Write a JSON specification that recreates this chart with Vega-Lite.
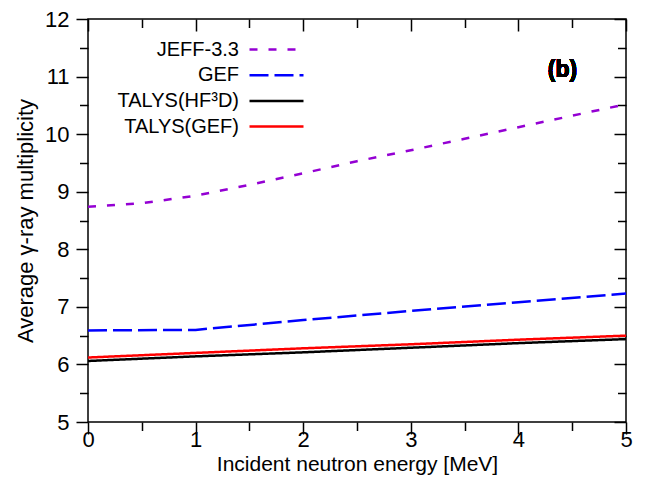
{
  "$schema": "https://vega.github.io/schema/vega-lite/v6.json",
  "autosize": "none",
  "width": 538,
  "height": 403,
  "padding": {"left": 88, "top": 19, "right": 20, "bottom": 62},
  "background": "white",
  "config": {
    "font": "Liberation Sans",
    "view": {"stroke": "black", "strokeWidth": 1.5},
    "axis": {
      "domain": false,
      "grid": false,
      "tickColor": "black",
      "tickWidth": 1.5,
      "labelFont": "Liberation Sans",
      "titleFont": "Liberation Sans",
      "labelColor": "black",
      "titleColor": "black",
      "titleFontWeight": "normal"
    }
  },
  "data": {
    "values": [
      {"series": "JEFF-3.3", "E": 0, "M": 8.74},
      {"series": "JEFF-3.3", "E": 0.5, "M": 8.80},
      {"series": "JEFF-3.3", "E": 1, "M": 8.93},
      {"series": "JEFF-3.3", "E": 1.5, "M": 9.12},
      {"series": "JEFF-3.3", "E": 2, "M": 9.32},
      {"series": "JEFF-3.3", "E": 2.5, "M": 9.53},
      {"series": "JEFF-3.3", "E": 3, "M": 9.72},
      {"series": "JEFF-3.3", "E": 3.5, "M": 9.92},
      {"series": "JEFF-3.3", "E": 4, "M": 10.12},
      {"series": "JEFF-3.3", "E": 4.5, "M": 10.32},
      {"series": "JEFF-3.3", "E": 5, "M": 10.52},
      {"series": "GEF", "E": 0, "M": 6.59},
      {"series": "GEF", "E": 1, "M": 6.60},
      {"series": "GEF", "E": 2, "M": 6.77},
      {"series": "GEF", "E": 3, "M": 6.93},
      {"series": "GEF", "E": 4, "M": 7.08},
      {"series": "GEF", "E": 5, "M": 7.23},
      {"series": "TALYS(HF³D)", "E": 0, "M": 6.06},
      {"series": "TALYS(HF³D)", "E": 1, "M": 6.14},
      {"series": "TALYS(HF³D)", "E": 2, "M": 6.21},
      {"series": "TALYS(HF³D)", "E": 3, "M": 6.29},
      {"series": "TALYS(HF³D)", "E": 4, "M": 6.37},
      {"series": "TALYS(HF³D)", "E": 5, "M": 6.44},
      {"series": "TALYS(GEF)", "E": 0, "M": 6.12},
      {"series": "TALYS(GEF)", "E": 1, "M": 6.20},
      {"series": "TALYS(GEF)", "E": 2, "M": 6.28},
      {"series": "TALYS(GEF)", "E": 3, "M": 6.35},
      {"series": "TALYS(GEF)", "E": 4, "M": 6.43},
      {"series": "TALYS(GEF)", "E": 5, "M": 6.50}
    ]
  },
  "layer": [
    {
      "mark": {"type": "line", "strokeWidth": 2.5, "strokeCap": "butt", "clip": true},
      "encoding": {
        "x": {
          "field": "E", "type": "quantitative",
          "scale": {"domain": [0, 5], "nice": false, "zero": false},
          "axis": {
            "orient": "bottom",
            "values": [0, 0.5, 1, 1.5, 2, 2.5, 3, 3.5, 4, 4.5, 5],
            "labelExpr": "datum.value % 1 ? '' : format(datum.value, 'd')",
            "tickSize": {"condition": {"test": "datum.value % 1", "value": 8.5}, "value": 12},
            "labelPadding": -5,
            "labelFontSize": 22,
            "labelFlush": false,
            "title": "Incident neutron energy [MeV]",
            "titleFontSize": 21,
            "titlePadding": 3
          }
        },
        "y": {
          "field": "M", "type": "quantitative",
          "scale": {"domain": [5, 12], "nice": false, "zero": false},
          "axis": {
            "orient": "left",
            "values": [5, 5.5, 6, 6.5, 7, 7.5, 8, 8.5, 9, 9.5, 10, 10.5, 11, 11.5, 12],
            "labelExpr": "datum.value % 1 ? '' : format(datum.value, 'd')",
            "tickSize": {"condition": {"test": "datum.value % 1", "value": 8.5}, "value": 12},
            "labelPadding": 7,
            "labelFontSize": 22,
            "labelFlush": false,
            "title": "Average γ-ray multiplicity",
            "titleFontSize": 22,
            "titlePadding": 7
          }
        },
        "color": {
          "field": "series", "type": "nominal",
          "scale": {
            "domain": ["JEFF-3.3", "GEF", "TALYS(HF³D)", "TALYS(GEF)"],
            "range": ["#9400D3", "#0000FF", "#000000", "#FF0000"]
          },
          "legend": {
            "title": null,
            "orient": "none",
            "legendX": 94,
            "legendY": 19,
            "padding": 0,
            "symbolType": "M-2.7,0H2.7",
            "symbolSize": 400,
            "symbolStrokeWidth": 2.5,
            "symbolOffset": 83,
            "labelOffset": -49,
            "labelAlign": "right",
            "labelFontSize": 20,
            "labelFont": "Liberation Sans",
            "labelColor": "black",
            "rowPadding": 3.7,
            "labelLimit": 300
          }
        },
        "strokeDash": {
          "field": "series", "type": "nominal",
          "scale": {
            "domain": ["JEFF-3.3", "GEF", "TALYS(HF³D)", "TALYS(GEF)"],
            "range": [[8, 11], [19, 6], [1, 0], [1, 0]]
          },
          "legend": null
        }
      }
    },
    {
      "mark": {"type": "line", "opacity": 0},
      "encoding": {
        "x": {
          "field": "E", "type": "quantitative",
          "axis": {
            "orient": "top",
            "values": [0, 0.5, 1, 1.5, 2, 2.5, 3, 3.5, 4, 4.5, 5],
            "labels": false,
            "title": null,
            "tickSize": {"condition": {"test": "datum.value % 1", "value": -8.5}, "value": -12}
          }
        },
        "y": {
          "field": "M", "type": "quantitative",
          "axis": {
            "orient": "right",
            "values": [5, 5.5, 6, 6.5, 7, 7.5, 8, 8.5, 9, 9.5, 10, 10.5, 11, 11.5, 12],
            "labels": false,
            "title": null,
            "tickSize": {"condition": {"test": "datum.value % 1", "value": -8.5}, "value": -12}
          }
        },
        "detail": {"field": "series"}
      }
    },
    {
      "mark": {"type": "text", "fontSize": 23, "fontWeight": "bold", "font": "Liberation Sans", "color": "black"},
      "encoding": {
        "x": {"datum": 4.41, "axis": null},
        "y": {"datum": 11.12, "axis": null},
        "text": {"value": "(b)"}
      }
    }
  ],
  "resolve": {"axis": {"x": "independent", "y": "independent"}}
}
